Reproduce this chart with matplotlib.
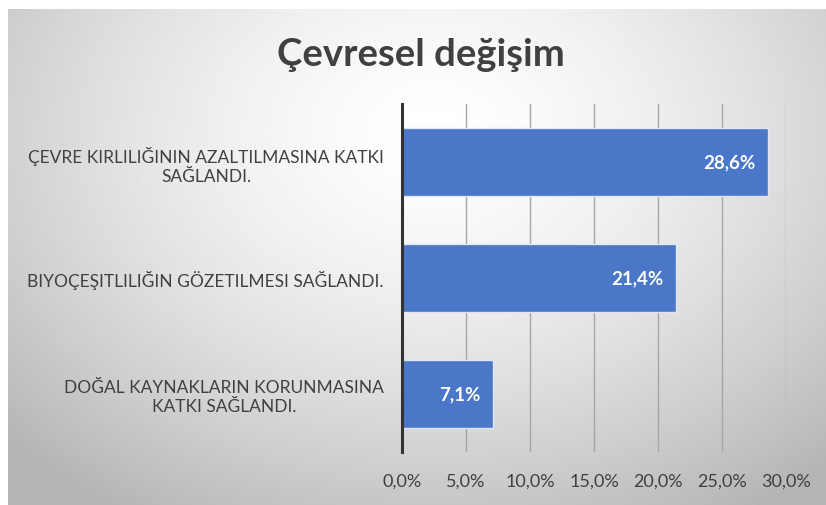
import numpy as np
import matplotlib
matplotlib.use('Agg')
import matplotlib.pyplot as plt

plt.rcParams['font.family'] = ['Lato', 'DejaVu Sans']

title = 'Çevresel değişim'
categories = [
    'ÇEVRE KIRLILIĞININ AZALTILMASINA KATKI\nSAĞLANDI.',
    'BIYOÇEŞITLILIĞIN GÖZETILMESI SAĞLANDI.',
    'DOĞAL KAYNAKLARIN KORUNMASINA\nKATKI SAĞLANDI.',
]
values = [28.6, 21.4, 7.1]
xticks = [0, 5, 10, 15, 20, 25, 30]

BAR_COLOR = '#4a77c8'
TEXT_COLOR = '#404040'

fig = plt.figure(figsize=(8.26, 5.06), dpi=100)
fig.patch.set_facecolor('white')

# soft radial gradient background like the office chart style
bg = fig.add_axes([8 / 826, 0, 1 - 8 / 826, 1 - 10 / 506], zorder=0)
yy, xx = np.mgrid[0:1:300j, 0:1:500j]
r = np.sqrt(((xx - 0.52) / 0.72) ** 2 + ((yy - 0.25) / 0.9) ** 2)
shade = 1.0 - 0.29 * np.clip(r, 0, 1) ** 1.5
bg.imshow(shade, cmap='gray', vmin=0, vmax=1, aspect='auto', extent=[0, 1, 1, 0])
bg.axis('off')

ax = fig.add_axes([402 / 826, 1 - 453 / 506, 384 / 826, 348 / 506], zorder=1)
ax.patch.set_alpha(0)

y = np.arange(len(categories))
bars = ax.barh(y, values, height=0.59, color=BAR_COLOR, edgecolor='#dfe6f3',
               linewidth=1.0, zorder=3)
for b, v in zip(bars, values):
    ax.text(b.get_width() - 1.0, b.get_y() + b.get_height() / 2,
            f'{v:.1f}%'.replace('.', ','), ha='right', va='center',
            color='white', fontsize=13.5, fontweight='bold', zorder=4)

ax.set_xlim(0, 30)
ax.set_ylim(len(categories) - 0.5, -0.5)
ax.set_xticks(xticks)
ax.set_xticklabels([f'{t:.1f}%'.replace('.', ',') for t in xticks])
ax.set_yticks(y)
ax.set_yticklabels(categories, multialignment='center')
ax.tick_params(axis='both', length=0, labelsize=12.5, colors=TEXT_COLOR)
ax.tick_params(axis='x', labelsize=13, pad=15)
ax.tick_params(axis='y', pad=13)
ax.grid(axis='x', color='#a6a6a6', linewidth=1.0, zorder=0)
for s in ['top', 'right', 'bottom']:
    ax.spines[s].set_visible(False)
ax.spines['left'].set_color('#333333')
ax.spines['left'].set_linewidth(2.2)
ax.spines['left'].set_zorder(5)

fig.text(0.510, 1 - 55 / 506, title, ha='center', va='center', fontsize=27.5,
         fontweight='bold', color='#404040')

fig.savefig('out.png', dpi=100)
